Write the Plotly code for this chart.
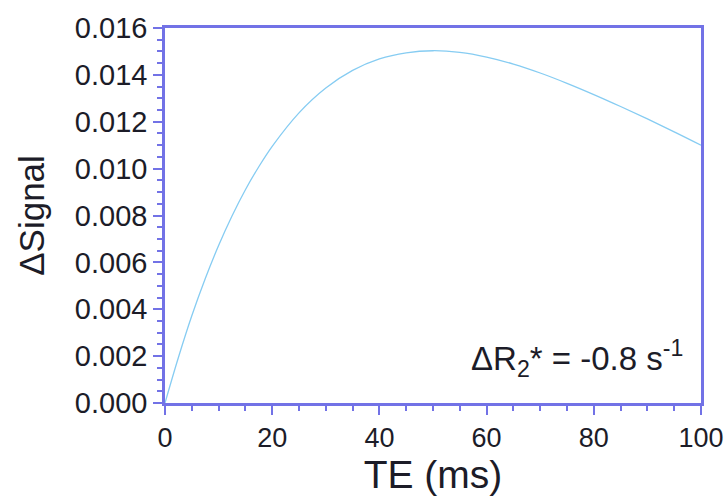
import plotly.graph_objects as go

# Echo time (ms) and signal change for a relaxation-rate change of -0.8 s^-1
te_ms = [0, 2.5, 5, 7.5, 10, 12.5, 15, 17.5, 20, 25, 30, 35, 40, 45, 50,
         55, 60, 65, 70, 75, 80, 85, 90, 95, 100]
delta_signal = [0.0, 0.00194, 0.00372, 0.00530, 0.00672, 0.00798, 0.00910,
                0.01008, 0.01095, 0.01238, 0.01344, 0.01419, 0.01468, 0.01494,
                0.01503, 0.01496, 0.01476, 0.01446, 0.01408, 0.01364, 0.01316,
                0.01265, 0.01212, 0.01157, 0.01100]

y_ticks = [0.000, 0.002, 0.004, 0.006, 0.008, 0.010, 0.012, 0.014, 0.016]
y_tick_text = ["0.000", "0.002", "0.004", "0.006", "0.008", "0.010",
               "0.012", "0.014", "0.016"]
x_ticks = [0, 20, 40, 60, 80, 100]

axis_color = "#7272e6"
text_color = "#1c1c28"
font_family = "Liberation Sans, Arial, Helvetica, sans-serif"

fig = go.Figure()
fig.add_trace(go.Scatter(
    x=te_ms, y=delta_signal, mode="lines",
    line=dict(color="#86ccf2", width=1.3, shape="spline"),
    hoverinfo="skip", showlegend=False,
))

fig.update_layout(
    width=726, height=497,
    margin=dict(l=165, r=25, t=25, b=94),
    paper_bgcolor="white", plot_bgcolor="white",
    font=dict(family=font_family, color=text_color, size=17),
    xaxis=dict(
        range=[0, 100], tickvals=x_ticks, automargin=False,
        showgrid=False, zeroline=False,
        showline=True, mirror=True, linecolor=axis_color, linewidth=2.5,
        ticks="outside", ticklen=9, tickwidth=2, tickcolor=axis_color,
        minor=dict(dtick=5, ticks="outside", ticklen=5, tickwidth=2,
                   tickcolor=axis_color, showgrid=False),
        tickfont=dict(size=27, color=text_color),
        title=dict(text="TE (ms)", font=dict(size=39, color=text_color),
                   standoff=2),
    ),
    yaxis=dict(
        range=[0, 0.016], tickvals=y_ticks, ticktext=y_tick_text,
        showgrid=False, zeroline=False,
        showline=True, mirror=True, linecolor=axis_color, linewidth=2.5,
        ticks="outside", ticklen=9, tickwidth=2, tickcolor=axis_color,
        minor=dict(dtick=0.0005, ticks="outside", ticklen=5, tickwidth=2,
                   tickcolor=axis_color, showgrid=False),
        tickfont=dict(size=29, color=text_color),
        title=dict(text="ΔSignal", font=dict(size=35, color=text_color),
                   standoff=20),
    ),
    annotations=[dict(
        x=0.97, y=0.12, xref="paper", yref="paper",
        xanchor="right", yanchor="middle", showarrow=False,
        text="ΔR<sub>2</sub>* = -0.8 s<sup>-1</sup>",
        font=dict(size=33, color=text_color),
    )],
)

fig.write_html("out.html")
